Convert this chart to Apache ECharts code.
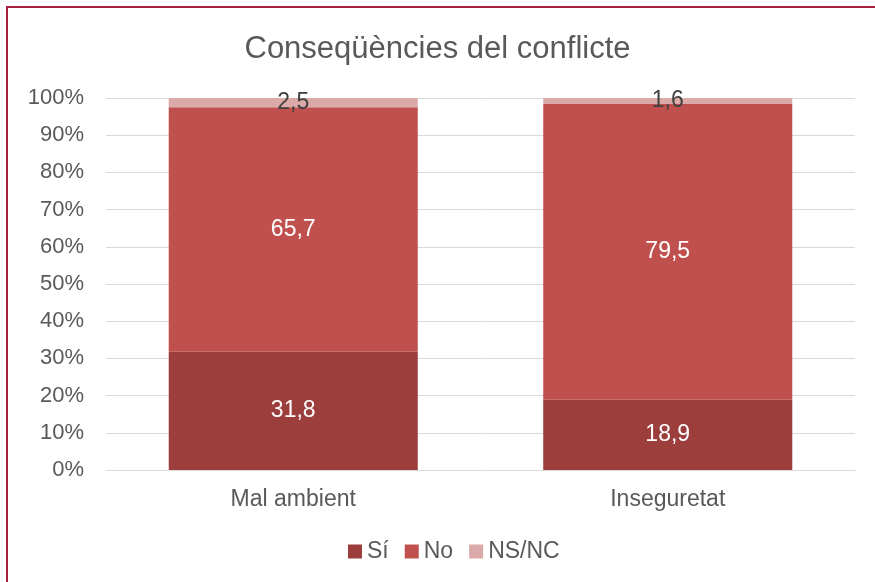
<!DOCTYPE html>
<html>
<head>
<meta charset="utf-8">
<script src="https://cdn.jsdelivr.net/npm/echarts@6/dist/echarts.min.js"></script>
<style>
  html, body { margin: 0; padding: 0; background: #fff; }
</style>
</head>
<body>
<div id="chart" style="width: 875px; height: 582px;"></div>
<script>
const categories = ["Mal ambient", "Inseguretat"];
const siValues = [31.8, 18.9];
const noValues = [65.7, 79.5];
const nsncValues = [2.5, 1.6];
const yTicks = { min: 0, max: 100, interval: 10 };

const myChart = echarts.init(document.getElementById("chart"));

const fmt = (p) => String(p.value).replace(".", ",");

myChart.setOption({
  animation: false,
  textStyle: { fontFamily: "Liberation Sans, Arial, sans-serif" },
  title: {
    text: "Conseqüències del conflicte",
    left: "center",
    top: 29,
    textStyle: { color: "#595959", fontSize: 31, fontWeight: "normal" },
  },
  graphic: [
    {
      type: "rect",
      shape: { x: 7, y: 7, width: 900, height: 600 },
      style: { fill: "none", stroke: "#a6203f", lineWidth: 2 },
      silent: true,
    },
  ],
  legend: {
    bottom: 14,
    left: 343,
    itemWidth: 14,
    itemHeight: 14,
    itemGap: 16,
    icon: "rect",
    textStyle: { color: "#595959", fontSize: 23 },
    data: ["Sí", "No", "NS/NC"],
  },
  grid: { left: 106, right: 20, top: 98, bottom: 112 },
  xAxis: {
    type: "category",
    data: categories,
    axisTick: { show: false },
    axisLine: { lineStyle: { color: "#d9d9d9" } },
    axisLabel: { color: "#595959", fontSize: 23, margin: 18 },
  },
  yAxis: {
    type: "value",
    min: yTicks.min,
    max: yTicks.max,
    interval: yTicks.interval,
    axisLabel: { color: "#595959", fontSize: 22, formatter: "{value}%", margin: 22 },
    splitLine: { lineStyle: { color: "#d9d9d9" } },
    axisLine: { show: false },
    axisTick: { show: false },
  },
  series: [
    {
      name: "Sí",
      type: "bar",
      stack: "total",
      barWidth: "66.5%",
      itemStyle: { color: "#9c3e3c" },
      label: { show: true, position: "inside", color: "#fff", fontSize: 23, formatter: fmt },
      data: siValues,
    },
    {
      name: "No",
      type: "bar",
      stack: "total",
      itemStyle: { color: "#c0504d" },
      label: { show: true, position: "inside", color: "#fff", fontSize: 23, formatter: fmt },
      data: noValues,
    },
    {
      name: "NS/NC",
      type: "bar",
      stack: "total",
      itemStyle: { color: "#dba9a8" },
      label: { show: true, position: "inside", color: "#404040", fontSize: 23, formatter: fmt },
      data: nsncValues,
    },
  ],
});
</script>
</body>
</html>
